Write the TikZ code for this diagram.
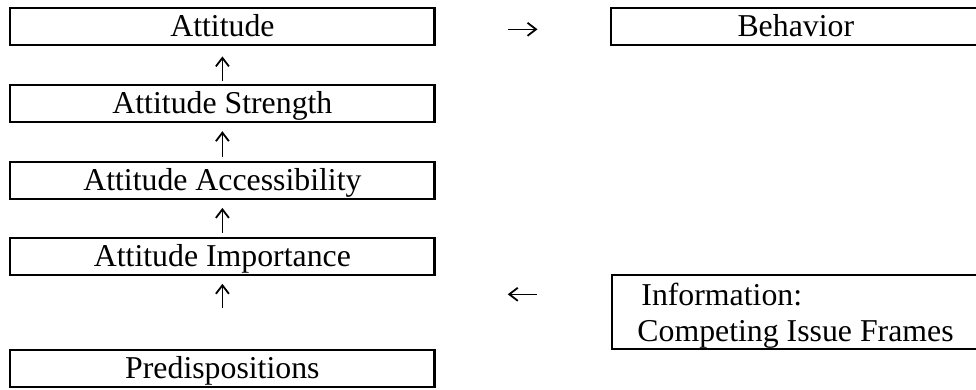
\documentclass[tikz,border=0pt]{standalone}
\usepackage{fontspec}
\setmainfont{Liberation Serif}
\usetikzlibrary{arrows.meta}
\begin{document}
\begin{tikzpicture}[x=1pt,y=-1pt,
  txt/.style={font=\fontsize{31.8}{36.5}\selectfont, inner sep=0pt},
  box/.style={txt, draw, line width=2.2pt, minimum height=37pt,
    text height=22pt, text depth=2pt},
  lbox/.style={box, minimum width=424.3pt},
  rbox/.style={box, minimum width=369pt},
  arr/.style={line width=1.5pt, -{Straight Barb[length=8.5pt,width=13pt,line width=1.8pt]}}
]
\useasboundingbox (0,0) rectangle (976,389);
\clip (0,0) rectangle (976,389);

% left column
\node[lbox] (att)  at (222.4,26.8)  {Attitude};
\node[lbox] (str)  at (222.4,103.6) {Attitude Strength};
\node[lbox] (acc)  at (222.4,180.3) {Attitude Accessibility};
\node[lbox] (imp)  at (222.4,256.2) {Attitude Importance};
\node[lbox] (pre)  at (222.4,368.6) {Predispositions};

% right column
\node[rbox] (beh)  at (795.8,26.8) {Behavior};
\node[draw, line width=2.2pt, minimum width=368pt, minimum height=74pt, inner sep=0pt]
  (info) at (796.2,312.3) {};
\node[txt, anchor=base west] (info1) at (641.2,305) {Information:};
\node[txt, anchor=base west] (info2) at (637.2,341.7) {Competing Issue Frames};

% vertical arrows
\draw[arr, shorten <=2.7pt, shorten >=10pt] (str.north) -- (att.south);
\draw[arr, shorten <=3.7pt, shorten >=8pt]  (acc.north) -- (str.south);
\draw[arr, shorten <=3.7pt, shorten >=8pt]  (imp.north) -- (acc.south);
\draw[arr, shorten <=41pt, shorten >=8pt]   (pre.north) -- (imp.south);

% horizontal arrows
\draw[arr, shorten <=72.3pt, shorten >=72.7pt]
  ([yshift=-2.5pt]att.east) -- ([yshift=-2.5pt]att.east -| beh.west);
\coordinate (infoin) at (435.5,294.3);
\draw[arr, shorten <=74pt, shorten >=72.3pt] (info.west |- infoin) -- (infoin);
\end{tikzpicture}
\end{document}
